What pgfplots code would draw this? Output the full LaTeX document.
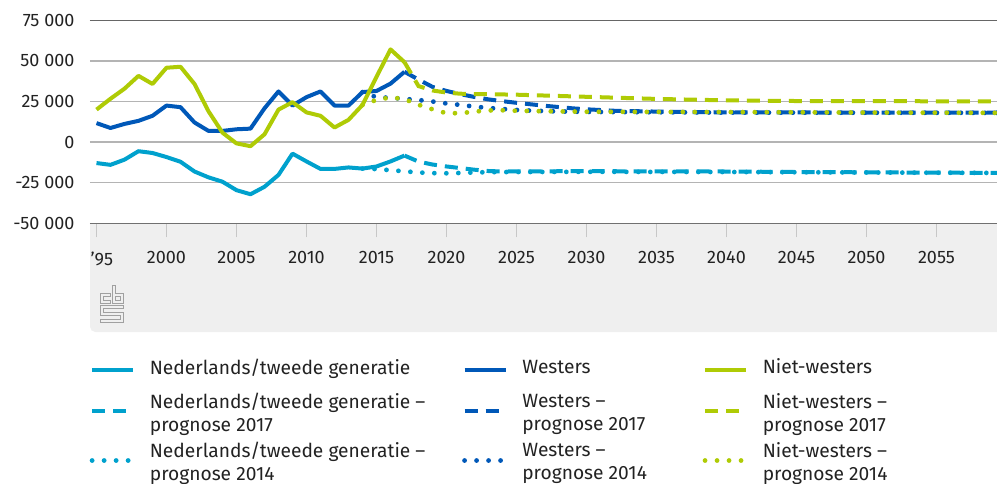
\documentclass[border=0pt]{standalone}
\usepackage{pgfplots}
\pgfplotsset{compat=1.18}
\usepackage{fontspec}
\setmainfont{Fira Sans}
\definecolor{cbslb}{HTML}{00A1CD}
\definecolor{cbsdb}{HTML}{0058B8}
\definecolor{cbsgr}{HTML}{AFCB05}
\definecolor{gridc}{HTML}{B4B4B4}
\definecolor{axc}{HTML}{707070}
\definecolor{bandc}{HTML}{EFEFEF}
\definecolor{txtc}{HTML}{222222}
\definecolor{logoc}{HTML}{A0A0A0}
\newcommand{\lone}[2]{\parbox[t]{#1}{\rule[-14pt]{0pt}{24pt}#2}}
\newcommand{\ltwo}[3]{\parbox[t]{#1}{\rule{0pt}{10pt}#2\\\rule[-7.6pt]{0pt}{7.6pt}#3}}
\pgfplotsset{
  real/.style={line width=3pt, line join=round},
  p17/.style={line width=3pt, dash pattern=on 9.75pt off 6pt},
  p14/.style={line width=3.6pt, line cap=round, dash pattern=on 0pt off 9pt},
}
\begin{document}
\begin{tikzpicture}
\path[use as bounding box] (0,0) rectangle (747.75pt,-362.25pt);
\begin{scope}[x=0.75pt,y=-0.75pt]
\fill[bandc] (997,223) -- (90,223) [rounded corners=4pt] -- (90,332) [sharp corners] -- (997,332) -- cycle;
\begin{scope}[shift={(100,285)}, draw=logoc, line width=0.75pt]
\draw (10,8) -- (0,8) -- (0,18) -- (10,18) -- (10,15) -- (3,15) -- (3,11) -- (10,11) -- cycle;
\draw (12,0) -- (15,0) -- (15,8) -- (23,8) -- (23,18) -- (12,18) -- cycle;
\draw (15,11) rectangle (20,15);
\draw (0,20) -- (23,20) -- (23,23) -- (3,23) -- (3,27) -- (23,27) -- (23,37) -- (0,37) -- (0,34) -- (20,34) -- (20,30) -- (0,30) -- cycle;
\end{scope}
\end{scope}
\begin{axis}[
  at={(67.5pt,-167.475pt)}, anchor=south west,
  scale only axis, width=680.25pt, height=152.25pt,
  xmin=1994.536, xmax=2059.32, ymin=-50000, ymax=75000,
  axis line style={draw=none},
  scaled y ticks=false,
  xtick={1995,2000,2005,2010,2015,2020,2025,2030,2035,2040,2045,2050,2055},
  xticklabels={{\hspace*{8pt}'95},2000,2005,2010,2015,2020,2025,2030,2035,2040,2045,2050,2055},
  ytick={-50000,-25000,0,25000,50000,75000},
  yticklabels={-50 000,-25 000,0,25 000,50 000,75 000},
  tick align=outside, major tick length=10.5pt, tick pos=left,
  xtick style={draw=black!22, line width=0.75pt},
  ytick style={draw=none},
  ymajorgrids, grid style={draw=gridc, line width=1pt},
  tick label style={font=\fontsize{13.5}{16}\selectfont, text=txtc},
  xticklabel style={anchor=north, inner sep=0pt, yshift=-10.5pt},
  yticklabel style={anchor=east, inner sep=0pt, xshift=-1pt},
  legend columns=3, legend cell align=left,
  legend image code/.code={\draw[#1] (0pt,4.5pt) -- (31pt,4.5pt);},
  legend style={draw=none, fill=none, at={(-0.0003,-0.667)}, anchor=north west,
    inner sep=0pt, outer sep=0pt, row sep=0pt, column sep=0pt,
    font=\fontsize{14.4}{17.6}\selectfont, text=txtc,
    nodes={inner sep=0pt, outer sep=0pt, text depth=},
    /tikz/every odd column/.style={column sep=10.5pt}},
]
% realised
\addplot[real, cbslb] coordinates {(1995,-12900)(1996,-14000)(1997,-10800)(1998,-5600)(1999,-6700)(2000,-9200)(2001,-12100)(2002,-18100)(2003,-21700)(2004,-24400)(2005,-29600)(2006,-32100)(2007,-27500)(2008,-20200)(2009,-7100)(2010,-11900)(2011,-16500)(2012,-16500)(2013,-15600)(2014,-16300)(2015,-15000)(2016,-11900)(2017,-8300)};
\addlegendentry{\lone{234.25pt}{Nederlands/tweede generatie}}
\addplot[real, cbsdb] coordinates {(1995,11700)(1996,8700)(1997,11200)(1998,13100)(1999,16200)(2000,22500)(2001,21500)(2002,12100)(2003,6900)(2004,6900)(2005,7900)(2006,8300)(2007,20800)(2008,31200)(2009,22500)(2010,27700)(2011,31200)(2012,22500)(2013,22500)(2014,30800)(2015,31500)(2016,36000)(2017,43300)};
\addlegendentry{\lone{135.25pt}{Westers}}
\addplot[real, cbsgr] coordinates {(1995,20000)(1996,26700)(1997,32900)(1998,40800)(1999,35800)(2000,45800)(2001,46400)(2002,35800)(2003,19000)(2004,5800)(2005,-800)(2006,-2500)(2007,4800)(2008,20000)(2009,24600)(2010,18300)(2011,16200)(2012,9000)(2013,13700)(2014,22900)(2015,40200)(2016,57100)(2017,49200)};
\addlegendentry{\lone{150pt}{Niet-westers}}
% prognose 2017
\addplot[p17, cbslb] coordinates {(2017,-8300)(2018,-12000)(2019,-13800)(2020,-15000)(2021,-16000)(2022,-17000)(2023,-17800)(2024,-18100)(2025,-18000)(2030,-17900)(2035,-18000)(2040,-18100)(2045,-18400)(2050,-18600)(2055,-18800)(2060,-19000)};
\addlegendentry{\ltwo{234.25pt}{Nederlands/tweede generatie –}{prognose 2017}}
\addplot[p17, cbsdb] coordinates {(2017,43300)(2018,38500)(2019,34000)(2020,31500)(2021,29500)(2022,27800)(2023,26300)(2024,25200)(2025,24200)(2026,23300)(2027,22400)(2028,21600)(2029,20800)(2030,20200)(2032,19300)(2035,18800)(2040,18300)(2050,18200)(2060,18200)};
\addlegendentry{\ltwo{135.25pt}{Westers –}{prognose 2017}}
\addplot[p17, cbsgr] coordinates {(2017,49200)(2018,34500)(2019,31800)(2020,30500)(2021,29800)(2022,29600)(2023,29500)(2025,29200)(2030,27900)(2035,26600)(2040,25700)(2045,25300)(2050,25200)(2060,25100)};
\addlegendentry{\ltwo{150pt}{Niet-westers –}{prognose 2017}}
% prognose 2014
\addplot[p14, cbslb] coordinates {(2014,-16300)(2015,-16600)(2016,-17300)(2017,-18000)(2018,-18700)(2019,-19100)(2020,-19200)(2021,-19000)(2022,-18700)(2023,-18500)(2025,-18400)(2030,-18300)(2040,-18400)(2050,-18700)(2060,-19000)};
\addlegendentry{\ltwo{234.25pt}{Nederlands/tweede generatie –}{prognose 2014}}
\addplot[p14, cbsdb] coordinates {(2014,30800)(2015,27600)(2016,27300)(2017,26600)(2018,25900)(2019,25000)(2020,23800)(2021,22900)(2022,21900)(2023,21000)(2024,20400)(2025,19800)(2026,19400)(2027,19100)(2028,18900)(2030,18600)(2035,18400)(2040,18200)(2060,18000)};
\addlegendentry{\ltwo{135.25pt}{Westers –}{prognose 2014}}
\addplot[p14, cbsgr] coordinates {(2014,22900)(2015,26000)(2016,27500)(2017,26500)(2018,23000)(2019,20200)(2020,17800)(2021,17800)(2022,18800)(2023,19500)(2024,19600)(2025,19300)(2027,19000)(2030,18700)(2040,18500)(2050,18200)(2060,18000)};
\addlegendentry{\ltwo{150pt}{Niet-westers –}{prognose 2014}}
\draw[axc, line width=1.2pt] (rel axis cs:0,0) -- (rel axis cs:1,0);
\draw[black!60, line width=0.75pt] (rel axis cs:0,1) -- (rel axis cs:1,1);
\end{axis}
\end{tikzpicture}
\end{document}
